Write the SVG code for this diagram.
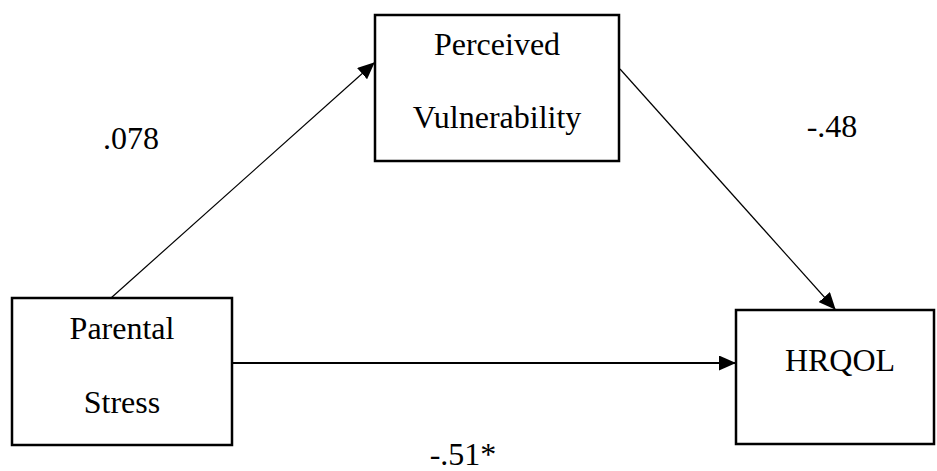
<svg xmlns="http://www.w3.org/2000/svg" width="937" height="471" viewBox="0 0 937 471">
<style>
.box{fill:#fff;stroke:#000;stroke-width:2.5}
.t{font-family:"Liberation Serif","Times New Roman",serif;font-size:32px;fill:#000;text-anchor:middle}
.c{stroke:#000;fill:none}
</style>
<defs>
<marker id="ah" markerWidth="17" markerHeight="15" refX="16" refY="7.5" orient="auto" markerUnits="userSpaceOnUse">
<path d="M0,0 L17,7.5 L0,15 Z" fill="#000"/>
</marker>
</defs>
<rect width="937" height="471" fill="#fff"/>
<g id="connectors">
<line class="c" x1="111" y1="298" x2="374" y2="63" stroke-width="1.2" marker-end="url(#ah)"/>
<line class="c" x1="620" y1="69" x2="835" y2="309" stroke-width="1.2" marker-end="url(#ah)"/>
<line class="c" x1="233" y1="363" x2="735" y2="363" stroke-width="2" marker-end="url(#ah)"/>
</g>
<g id="perceived">
<rect class="box" x="375" y="15" width="244" height="146"/>
<text class="t" x="497" y="55">Perceived</text>
<text class="t" x="497" y="128">Vulnerability</text>
</g>
<g id="parental">
<rect class="box" x="12" y="298" width="220" height="147"/>
<text class="t" x="122" y="339">Parental</text>
<text class="t" x="122" y="413">Stress</text>
</g>
<g id="hrqol">
<rect class="box" x="736" y="310" width="198" height="134"/>
<text class="t" x="840" y="371">HRQOL</text>
</g>
<g id="labels">
<text class="t" x="131" y="149">.078</text>
<text class="t" x="832" y="137">-.48</text>
<text class="t" x="463" y="465">-.51*</text>
</g>
</svg>
